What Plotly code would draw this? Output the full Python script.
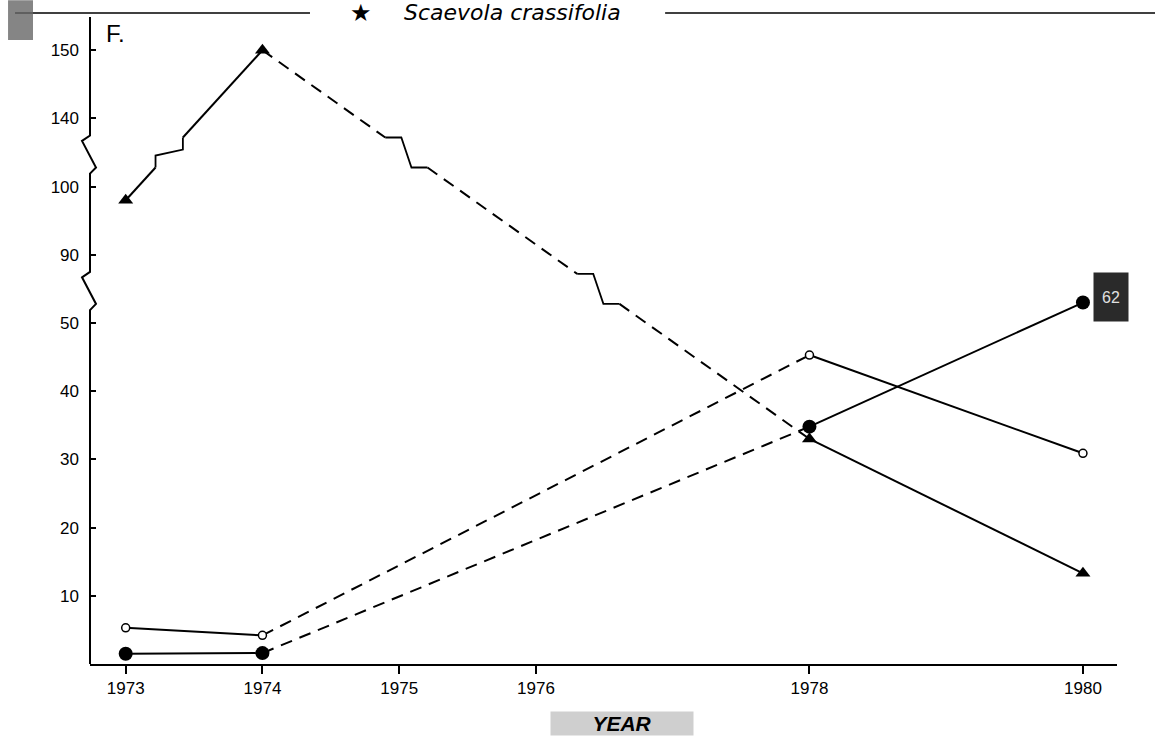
import plotly.graph_objects as go

# ---------------- data ----------------
years = [1973, 1974, 1978, 1980]
triangles = [98, 150, 33, 13.3]          # filled triangles
open_circles = [5.3, 4.2, 45.3, 30.9]    # open circles
filled_circles = [1.5, 1.6, 34.8, 62]    # filled circles
x_ticks = [1973, 1974, 1975, 1976, 1978, 1980]
y_tick_values = [10, 20, 30, 40, 50, 90, 100, 140, 150]
dashed_pair = (1974, 1978)               # period drawn with dashed lines

# broken y axis: 0-50 linear, 50-90 compressed, 90-100 linear, 100-140 compressed, 140-150 linear
def disp(v):
    if v <= 50:
        return v / 10
    if v <= 90:
        return 5 + (v - 50) / 40
    if v <= 100:
        return 6 + (v - 90) / 10
    if v <= 140:
        return 7 + (v - 100) / 40
    return 8 + (v - 140) / 10

break_centers = [5.5, 7.5]
H = 0.22
FONT = "Liberation Sans"
PX_PER_YEAR, PX_PER_UNIT = 136.76, 68.2


def split_segment(x0, y0, x1, y1):
    straights, notches = [], []
    cur = (x0, y0)
    crossings = []
    for yb in break_centers:
        if min(y0, y1) < yb - H and max(y0, y1) > yb + H:
            ya, yb2 = (yb - H, yb + H) if y1 > y0 else (yb + H, yb - H)
            ta = (ya - y0) / (y1 - y0)
            tb = (yb2 - y0) / (y1 - y0)
            crossings.append((ta, tb))
    crossings.sort()
    steep = abs((y1 - y0) * PX_PER_UNIT / ((x1 - x0) * PX_PER_YEAR)) > 1
    for ta, tb in crossings:
        pa = (x0 + ta * (x1 - x0), y0 + ta * (y1 - y0))
        pb = (x0 + tb * (x1 - x0), y0 + tb * (y1 - y0))
        straights.append([cur, pa])
        if steep:
            h = 0.4 * (pb[1] - pa[1])
            notches.append([pa, (pa[0], pa[1] + h), (pb[0], pb[1] - h), pb])
        else:
            w = 0.38 * (pb[0] - pa[0])
            notches.append([pa, (pa[0] + w, pa[1]), (pb[0] - w, pb[1]), pb])
        cur = pb
    straights.append([cur, (x1, y1)])
    return straights, notches


def add_path(xs, ys, pts):
    for p in pts:
        xs.append(p[0])
        ys.append(p[1])
    xs.append(None)
    ys.append(None)


fig = go.Figure()

series = [
    (triangles, dict(symbol="triangle-up", size=13, color="black")),
    (open_circles, dict(symbol="circle", size=8, color="white", line=dict(color="black", width=1.5))),
    (filled_circles, dict(symbol="circle", size=14, color="black")),
]

for vals, marker in series:
    dv = [disp(v) for v in vals]
    sx, sy, dx, dy, nx, ny = [], [], [], [], [], []
    for i in range(len(years) - 1):
        straights, notches = split_segment(years[i], dv[i], years[i + 1], dv[i + 1])
        dashed = (years[i], years[i + 1]) == dashed_pair
        for s in straights:
            if dashed:
                add_path(dx, dy, s)
            else:
                add_path(sx, sy, s)
        for n in notches:
            add_path(nx, ny, n)
    fig.add_trace(go.Scatter(x=sx, y=sy, mode="lines", line=dict(color="black", width=2),
                             showlegend=False, hoverinfo="skip"))
    fig.add_trace(go.Scatter(x=dx, y=dy, mode="lines",
                             line=dict(color="black", width=2, dash="12px,8px"),
                             showlegend=False, hoverinfo="skip"))
    fig.add_trace(go.Scatter(x=nx, y=ny, mode="lines", line=dict(color="black", width=1.8),
                             showlegend=False, hoverinfo="skip"))
    fig.add_trace(go.Scatter(x=years, y=dv, mode="markers", marker=marker,
                             showlegend=False, cliponaxis=False))

# broken y-axis line drawn as a path (x in pixels from the left plot edge)
path = "M0,0"
for yb in break_centers:
    path += f" L0,{yb-0.31} L6,{yb-0.22} L-8,{yb+0.17} L0,{yb+0.25}"
path += " L0,9.487"
shapes = [
    dict(type="path", xref="paper", xsizemode="pixel", xanchor=0, yref="y", path=path,
         line=dict(color="black", width=2)),
    # title rules
    dict(type="line", xref="paper", yref="paper", x0=-0.073, x1=0.2142, y0=1.0062, y1=1.0062,
         line=dict(color="black", width=1.5)),
    dict(type="line", xref="paper", yref="paper", x0=0.56, x1=1.037, y0=1.0062, y1=1.0062,
         line=dict(color="black", width=1.5)),
    # scanned smudge at the axis label position
    dict(type="rect", xref="paper", yref="paper", x0=-0.0798, x1=-0.0555, y0=0.9645, y1=1.026,
         fillcolor="#666", opacity=0.8, line=dict(width=0)),
]

annotations = [
    dict(text="★", xref="paper", yref="paper", x=(361 - 90) / 1027, y=1 + 4 / 647,
         xanchor="center", yanchor="middle", showarrow=False,
         font=dict(family="DejaVu Sans", size=24, color="black")),
    dict(text="<i>Scaevola crassifolia</i>", xref="paper", yref="paper", x=(512 - 90) / 1027,
         y=1 + 4 / 647, xanchor="center", yanchor="middle", showarrow=False,
         font=dict(family="DejaVu Sans", size=22, color="black")),
    dict(text="F.", xref="paper", yref="paper", x=0.0253, y=0.975, xanchor="center", yanchor="middle",
         showarrow=False, font=dict(family=FONT, size=24, color="black")),
    dict(text="62", x=1980, y=disp(filled_circles[-1]), xref="x", yref="y", xshift=28, yshift=6,
         showarrow=False, width=30, height=44, bgcolor="#2a2a2a", borderpad=2,
         font=dict(family=FONT, size=16, color="#e0e0e0")),
    dict(text="<b><i>YEAR</i></b>", xref="paper", yref="paper", x=0.518, y=-0.0912,
         xanchor="center", yanchor="middle", showarrow=False, width=140, height=21,
         bgcolor="#cfcfcf", font=dict(family=FONT, size=21, color="black")),
]

fig.update_layout(
    width=1156, height=748, autosize=False,
    margin=dict(l=90, r=39, t=17, b=84),
    paper_bgcolor="white", plot_bgcolor="white",
    font=dict(family=FONT, size=17, color="black"),
    shapes=shapes, annotations=annotations,
    xaxis=dict(range=[1972.739, 1980.249], tickvals=x_ticks, ticktext=[str(t) for t in x_ticks],
               ticks="outside", ticklen=8, tickwidth=1.5, tickcolor="black",
               showline=True, linewidth=2, linecolor="black", showgrid=False, zeroline=False,
               tickfont=dict(family=FONT, size=17, color="black")),
    yaxis=dict(range=[0, 9.487], tickvals=[disp(v) for v in y_tick_values],
               ticktext=[str(v) for v in y_tick_values],
               ticks="inside", ticklen=6, tickwidth=1.5, tickcolor="black",
               ticklabelstandoff=10,
               showline=False, showgrid=False, zeroline=False,
               tickfont=dict(family=FONT, size=17, color="black")),
)

fig.write_html("out.html")
